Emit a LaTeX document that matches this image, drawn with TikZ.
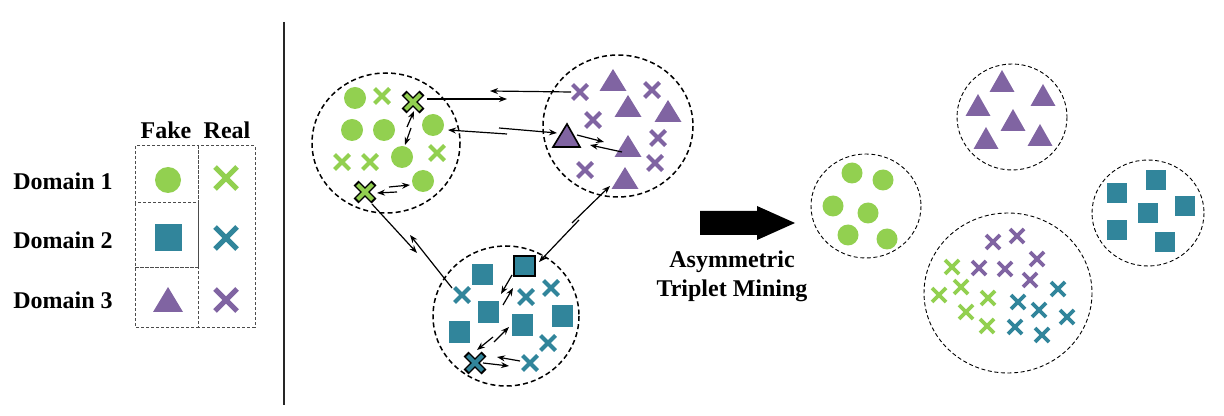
\documentclass[tikz,border=0pt]{standalone}
\usepackage{fontspec}
\setmainfont{Liberation Serif}
\usetikzlibrary{arrows.meta}

\definecolor{fakegreen}{RGB}{146,208,80}
\definecolor{faketeal}{RGB}{49,133,155}
\definecolor{fakepurple}{RGB}{128,100,162}

\tikzset{
  lbl/.style={font=\fontsize{12}{14}\selectfont\bfseries},
  cluster/.style={dash pattern=on 2.5pt off 1.6pt, line width=0.75pt},
  group/.style={dash pattern=on 2pt off 1.3pt, line width=0.45pt},
  legbox/.style={dash pattern=on 1.5pt off 1pt, line width=0.5pt, black!70},
  xmark/.style={line width=2pt},
  legx/.style={line width=2.6pt},
  pull/.style={-{Stealth[length=4pt,width=3pt]}, line width=0.6pt},
}

\begin{document}
\begin{tikzpicture}[x=0.5pt,y=-0.5pt]
\useasboundingbox (0,0) rectangle (1224,416);

% Legend
\node[lbl] (dom1) at (63,181) {Domain 1};
\node[lbl] (dom2) at (63,240) {Domain 2};
\node[lbl] (dom3) at (63,300) {Domain 3};
\node[lbl] (fake) at (166,130) {Fake};
\node[lbl] (real) at (227,130) {Real};

\draw[legbox] (135,146) rectangle (198,203);
\draw[legbox] (135,203) rectangle (198,268);
\draw[legbox] (135,268) rectangle (198,327);
\draw[legbox] (198,146) rectangle (255,327);

\fill[fakegreen] (168,180) circle (13);
\fill[faketeal] (154.5,224.5) rectangle (181.5,251.5);
\fill[fakepurple] (168,287) -- (183,312) -- (153,312) -- cycle;
\draw[legx, fakegreen] (226,178) +(-11,-11) -- +(11,11) +(-11,11) -- +(11,-11);
\draw[legx, faketeal] (226,238) +(-11,-11) -- +(11,11) +(-11,11) -- +(11,-11);
\draw[legx, fakepurple] (226,300) +(-11,-11) -- +(11,11) +(-11,11) -- +(11,-11);

% Separator
\draw[line width=0.8pt, black!85] (284,22) -- (284,405);

% Clusters before mining
\draw[cluster] (386,143) ellipse [x radius=74, y radius=70];   % Domain 1
\draw[cluster] (618,126) ellipse [x radius=75, y radius=71];   % Domain 3
\draw[cluster] (506,316) ellipse [x radius=73, y radius=70];   % Domain 2

% Domain 1 samples
\foreach \x/\y in {355/98, 352/130, 384/130, 433/125, 402/157, 423/181}
  \fill[fakegreen] (\x,\y) circle (11);
\foreach \x/\y in {382/96, 342/162, 370/162, 437/153}
  \draw[xmark, fakegreen] (\x,\y) +(-7.5,-7.5) -- +(7.5,7.5) +(-7.5,7.5) -- +(7.5,-7.5);
\foreach \x/\y in {413/102, 365/192} {
  \draw[line width=3.4pt] (\x,\y) +(-9,-9) -- +(9,9) +(-9,9) -- +(9,-9);
  \draw[xmark, fakegreen] (\x,\y) +(-7.5,-7.5) -- +(7.5,7.5) +(-7.5,7.5) -- +(7.5,-7.5);
}

% Domain 3 samples
\foreach \x/\y in {613/82, 628/108, 668/113, 628/148, 625/180}
  \fill[fakepurple] (\x,\y) +(0,-13) -- +(13.5,9) -- +(-13.5,9) -- cycle;
\foreach \x/\y in {580/92, 652/90, 593/120, 658/138, 655/163, 585/170}
  \draw[xmark, fakepurple] (\x,\y) +(-7.5,-7.5) -- +(7.5,7.5) +(-7.5,7.5) -- +(7.5,-7.5);
\filldraw[fill=fakepurple, draw=black, line width=0.8pt] (567,124) -- (580,147) -- (553,147) -- cycle;

% Domain 2 samples
\foreach \x/\y in {482/275, 488/312, 459/332, 522/325, 562/316}
  \fill[faketeal] (\x,\y) +(-10.5,-10.5) rectangle +(10.5,10.5);
\foreach \x/\y in {462/295, 526/297, 551/288, 548/343, 530/363}
  \draw[xmark, faketeal] (\x,\y) +(-7.5,-7.5) -- +(7.5,7.5) +(-7.5,7.5) -- +(7.5,-7.5);
\filldraw[fill=faketeal, draw=black, line width=0.8pt] (514,256) rectangle (535,276);
\draw[line width=3.4pt] (475,363) +(-9,-9) -- +(9,9) +(-9,9) -- +(9,-9);
\draw[xmark, faketeal] (475,363) +(-7.5,-7.5) -- +(7.5,7.5) +(-7.5,7.5) -- +(7.5,-7.5);

% Pulls inside clusters
\draw[pull] (407,127) -- (414,111);
\draw[pull] (411,128) -- (405,145);
\draw[pull] (389,187) -- (410,185);
\draw[pull] (397,192) -- (377,193);
\draw[pull] (577,135) -- (604,142);
\draw[pull] (622,152) -- (590,145);
\draw[pull] (512,275) -- (501,294);
\draw[pull] (503,305) -- (513,288);
\draw[pull] (493,337) -- (477,350);
\draw[pull] (494,342) -- (509,327);
\draw[pull] (520,361) -- (497,357);
\draw[pull] (483,363) -- (509,366);

% Pushes between clusters
\draw[pull] (427,99) -- (507,99);
\draw[pull] (571,92) -- (490,91);
\draw[pull] (507,134) -- (448,130);
\draw[pull] (499,128) -- (557,133);
\draw[pull] (372,204) -- (417,253);
\draw[pull] (452,288) -- (410,235);
\draw[pull] (572,223) -- (610,186);
\draw[pull] (579,220) -- (539,262);

% Mining arrow
\fill (700,211) -- (757,211) -- (757,206) -- (795,223) -- (757,240) -- (757,235) -- (700,235) -- cycle;
\node[lbl] (mine1) at (732,262) {Asymmetric};
\node[lbl] (mine2) at (732,291) {Triplet Mining};

% Groups after mining
\draw[group] (1012,117) ellipse [x radius=55, y radius=53];
\draw[group] (866,206) ellipse [x radius=55, y radius=52];
\draw[group] (1148,213) ellipse [x radius=56, y radius=53];
\draw[group] (1008,293) ellipse [x radius=84, y radius=80];

\foreach \x/\y in {1002/83, 978/107, 1043/97, 1013/122, 986/140, 1040/137}
  \fill[fakepurple] (\x,\y) +(0,-13) -- +(12.5,9) -- +(-12.5,9) -- cycle;
\foreach \x/\y in {852/173, 883/180, 833/206, 868/213, 848/235, 887/239}
  \fill[fakegreen] (\x,\y) circle (10.5);
\foreach \x/\y in {1156/180, 1117/193, 1185/206, 1148/213, 1117/230, 1165/242}
  \fill[faketeal] (\x,\y) +(-10,-10) rectangle +(10,10);
\foreach \x/\y in {993/242, 1017/236, 1037/259, 979/268, 1005/269, 1030/280}
  \draw[line width=1.8pt, fakepurple] (\x,\y) +(-7,-7) -- +(7,7) +(-7,7) -- +(7,-7);
\foreach \x/\y in {952/267, 939/295, 961/287, 988/298, 966/312, 987/326}
  \draw[line width=1.8pt, fakegreen] (\x,\y) +(-7,-7) -- +(7,7) +(-7,7) -- +(7,-7);
\foreach \x/\y in {1058/289, 1018/302, 1039/310, 1067/317, 1015/327, 1042/335}
  \draw[line width=1.8pt, faketeal] (\x,\y) +(-7,-7) -- +(7,7) +(-7,7) -- +(7,-7);

\end{tikzpicture}
\end{document}
